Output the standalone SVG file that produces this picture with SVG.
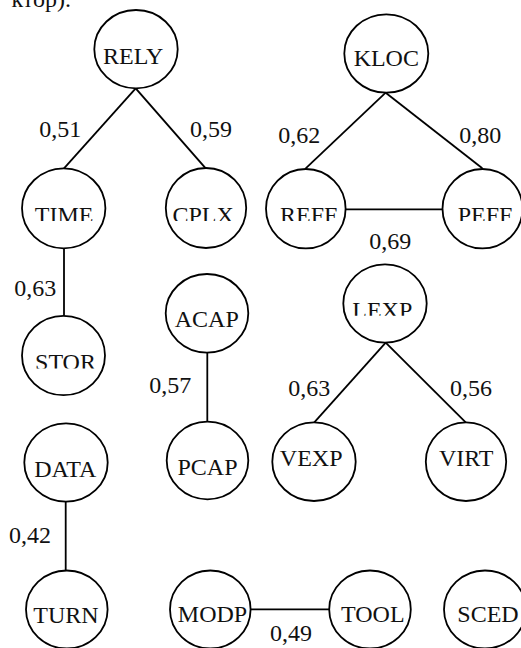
<svg xmlns="http://www.w3.org/2000/svg" width="521" height="648" viewBox="0 0 521 648">
<style>
text{font-family:"Liberation Serif","Times New Roman",serif;font-size:24px;fill:#111}
.n{text-anchor:middle}
ellipse{fill:#fff;stroke:#000;stroke-width:1.8}
#edges line{stroke:#000;stroke-width:1.8}
</style>
<defs>
<clipPath id="c1"><rect x="0" y="150" width="521" height="71"/></clipPath>
<clipPath id="c2"><rect x="0" y="330" width="200" height="38.6"/></clipPath>
<clipPath id="c3"><rect x="300" y="280" width="200" height="35.8"/></clipPath>
</defs>
<rect width="521" height="648" fill="#fff"/>
<text x="71" y="7" text-anchor="end">ктор).</text>
<g id="edges">
<line x1="135.7" y1="88.3" x2="64" y2="168.3"/>
<line x1="135.7" y1="88.3" x2="205.7" y2="168.3"/>
<line x1="385.7" y1="92.7" x2="305.7" y2="168.3"/>
<line x1="385.7" y1="92.7" x2="482.3" y2="168.3"/>
<line x1="345.7" y1="209.3" x2="442.7" y2="209.3"/>
<line x1="64" y1="248.3" x2="64" y2="315.7"/>
<line x1="207.3" y1="352.7" x2="207.3" y2="421.7"/>
<line x1="385.7" y1="342.7" x2="314.3" y2="422.3"/>
<line x1="385.7" y1="342.7" x2="465.7" y2="422.3"/>
<line x1="65.7" y1="501.7" x2="65.7" y2="570.7"/>
<line x1="250.7" y1="609.3" x2="329" y2="609.3"/>
<text x="39.3" y="136.7">0,51</text>
<text x="190" y="136.7">0,59</text>
<text x="278.3" y="142.7">0,62</text>
<text x="459.3" y="142.7">0,80</text>
<text x="369.3" y="249">0,69</text>
<text x="14.3" y="295.7">0,63</text>
<text x="149.3" y="393.3">0,57</text>
<text x="288.3" y="396">0,63</text>
<text x="450" y="396">0,56</text>
<text x="9" y="543.3">0,42</text>
<text x="270" y="640.7">0,49</text>
</g>
<g id="RELY"><ellipse cx="136" cy="49.2" rx="41.7" ry="39.2"/><text class="n" x="133.2" y="64">RELY</text></g>
<g id="KLOC"><ellipse cx="386.3" cy="53.5" rx="42" ry="39.2"/><text class="n" x="386.3" y="65.7">KLOC</text></g>
<g id="TIME"><ellipse cx="63.7" cy="208.3" rx="41.7" ry="40"/><text class="n" x="64.2" y="222.5" clip-path="url(#c1)">TIME</text></g>
<g id="CPLX"><ellipse cx="206" cy="208" rx="40.2" ry="40"/><text class="n" x="203.2" y="222.5" clip-path="url(#c1)">CPLX</text></g>
<g id="REFF"><ellipse cx="305.8" cy="208.7" rx="39.8" ry="39.7"/><text class="n" x="308.7" y="222.5" clip-path="url(#c1)">REFF</text></g>
<g id="PEFF"><ellipse cx="482.5" cy="208.7" rx="40" ry="39.7"/><text class="n" x="485" y="222.5" clip-path="url(#c1)">PEFF</text></g>
<g id="STOR"><ellipse cx="63.5" cy="355.5" rx="41.5" ry="39.7"/><text class="n" x="65.5" y="370.2" clip-path="url(#c2)">STOR</text></g>
<g id="ACAP"><ellipse cx="207" cy="313.3" rx="41.3" ry="39.3"/><text class="n" x="206.8" y="326.7">ACAP</text></g>
<g id="LEXP"><ellipse cx="385" cy="303.5" rx="41.7" ry="39.2"/><text class="n" x="382.3" y="317.6" clip-path="url(#c3)">LEXP</text></g>
<g id="VEXP"><ellipse cx="314" cy="461.7" rx="41.7" ry="39.3"/><text class="n" x="311.2" y="466">VEXP</text></g>
<g id="VIRT"><ellipse cx="466" cy="461.7" rx="40.2" ry="39.3"/><text class="n" x="466.2" y="466">VIRT</text></g>
<g id="PCAP"><ellipse cx="207.5" cy="460.5" rx="40.8" ry="38.8"/><text class="n" x="207.5" y="475">PCAP</text></g>
<g id="DATA"><ellipse cx="66" cy="462.5" rx="41.7" ry="39.2"/><text class="n" x="65.3" y="477.3">DATA</text></g>
<g id="TURN"><ellipse cx="66.8" cy="609.5" rx="40.8" ry="39"/><text class="n" x="66" y="623.3">TURN</text></g>
<g id="MODP"><ellipse cx="210.3" cy="609.5" rx="40.3" ry="39"/><text class="n" x="212.5" y="621.7">MODP</text></g>
<g id="TOOL"><ellipse cx="370" cy="609.5" rx="40.8" ry="39"/><text class="n" x="372.8" y="621.7">TOOL</text></g>
<g id="SCED"><ellipse cx="485" cy="609.5" rx="41" ry="39"/><text class="n" x="488" y="621.7">SCED</text></g>
</svg>
